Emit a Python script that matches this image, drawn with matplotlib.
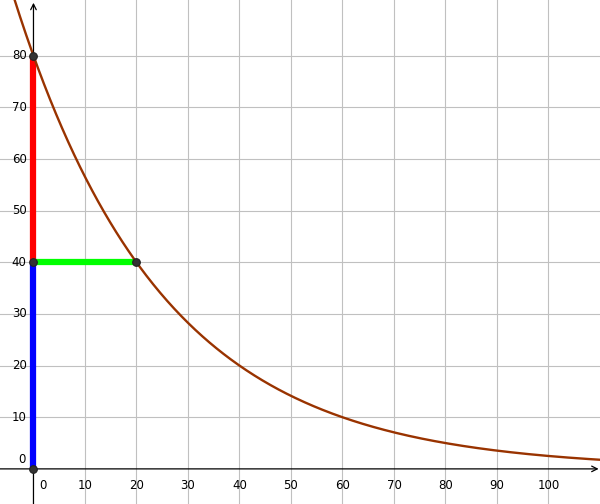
import numpy as np
import matplotlib
matplotlib.use("Agg")
import matplotlib.pyplot as plt

# decay curve y = y0 * 0.5^(x / half_life)
y0 = 80
half_life = 20
x_ticks = [10, 20, 30, 40, 50, 60, 70, 80, 90, 100]
y_ticks = [10, 20, 30, 40, 50, 60, 70, 80]

points_x = [0, 0, 0, 20]
points_y = [0, 40, 80, 40]

xmin, xmax = -6.5, 110.0
ymin, ymax = -6.8, 90.8

fig = plt.figure(figsize=(6, 5.04), dpi=100)
ax = fig.add_axes([0, 0, 1, 1])
ax.set_xlim(xmin, xmax)
ax.set_ylim(ymin, ymax)
for s in ax.spines.values():
    s.set_visible(False)
ax.set_xticks(x_ticks)
ax.set_yticks(y_ticks)
ax.tick_params(length=0, labelbottom=False, labelleft=False)
ax.grid(True, color="#c0c0c0", linewidth=0.8)
ax.set_axisbelow(True)

# axes with arrows
ax.annotate("", xy=(xmax, 0), xytext=(xmin, 0),
            arrowprops=dict(arrowstyle="->", color="black", lw=0.9,
                            shrinkA=0, shrinkB=1))
ax.annotate("", xy=(0, ymax), xytext=(0, ymin),
            arrowprops=dict(arrowstyle="->", color="black", lw=0.9,
                            shrinkA=0, shrinkB=2))

# tick labels
for t in x_ticks:
    ax.annotate(str(t), (t, 0), xytext=(0, -7), textcoords="offset points",
                ha="center", va="top", fontsize=8.5)
ax.annotate("0", (0, 0), xytext=(4, -7), textcoords="offset points",
            ha="left", va="top", fontsize=8.5)
for t in y_ticks:
    ax.annotate(str(t), (0, t), xytext=(-5, 0), textcoords="offset points",
                ha="right", va="center", fontsize=8.5)
ax.annotate("0", (0, 0), xytext=(-6, 2), textcoords="offset points",
            ha="right", va="bottom", fontsize=8.5)

# segments
ax.plot([0, 0], [0, 40], color="#0000ff", lw=4.5, solid_capstyle="butt", zorder=3)
ax.plot([0, 0], [40, 80], color="#ff0000", lw=4.5, solid_capstyle="butt", zorder=3)
ax.plot([0, 20], [40, 40], color="#00ff00", lw=4.5, solid_capstyle="butt", zorder=3)

# curve
x = np.linspace(xmin, xmax, 600)
ax.plot(x, y0 * 0.5 ** (x / half_life), color="#993300", lw=1.7, zorder=4)

# points
ax.plot(points_x, points_y, "o", color="#333333", markersize=5.5,
        markeredgecolor="#222222", markeredgewidth=0.8, zorder=5)

fig.savefig("out.png", dpi=100)
